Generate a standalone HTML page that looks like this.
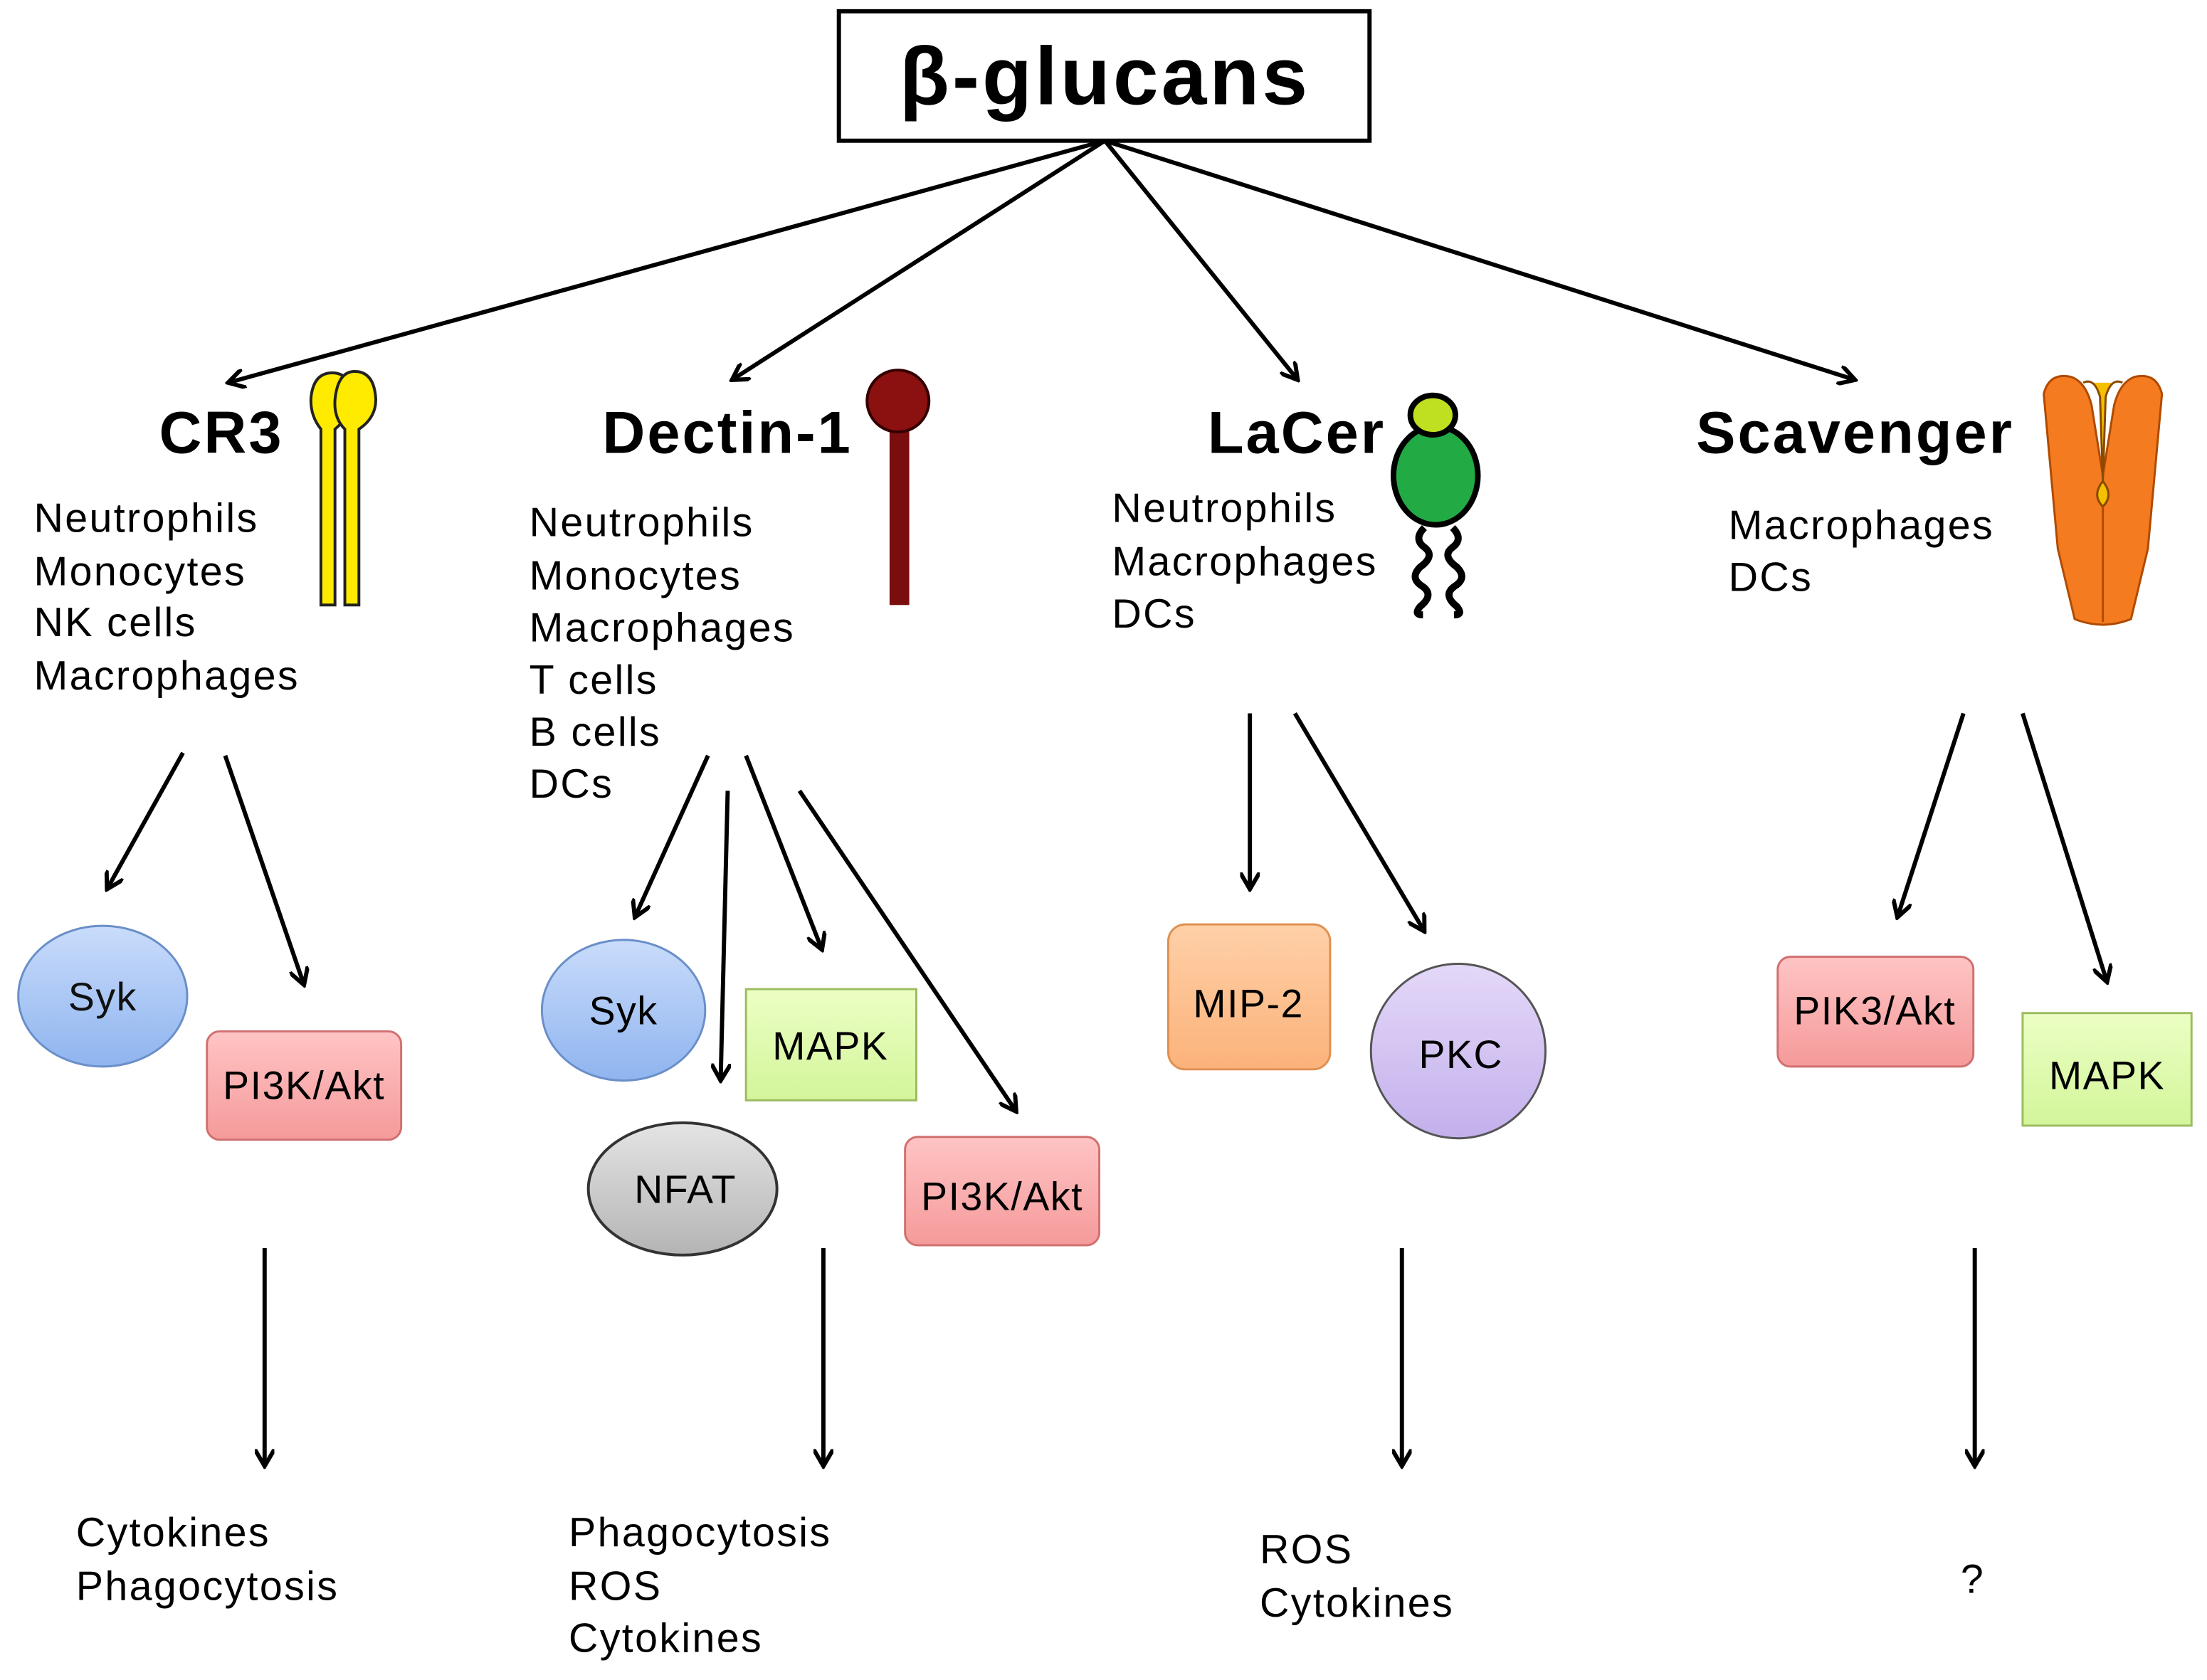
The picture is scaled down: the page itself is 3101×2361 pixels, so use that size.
<!DOCTYPE html>
<html><head><meta charset="utf-8"><style>html,body{margin:0;padding:0;background:#fff}svg{display:block}</style></head>
<body>
<svg width="3101" height="2361" viewBox="0 0 1568 1194" preserveAspectRatio="none" xmlns="http://www.w3.org/2000/svg" font-family="Liberation Sans, Arial, sans-serif">
<defs>
<marker id="a" markerWidth="14" markerHeight="14" refX="12" refY="7" orient="auto" markerUnits="userSpaceOnUse" viewBox="0 0 14 14">
<polyline points="0,0 12,7 0,14" fill="none" stroke="#000" stroke-width="3"/>
</marker>
<linearGradient id="bl" x1="0" y1="0" x2="0" y2="1"><stop offset="0" stop-color="#c9dcfb"/><stop offset="1" stop-color="#8fb4ef"/></linearGradient>
<linearGradient id="pk" x1="0" y1="0" x2="0" y2="1"><stop offset="0" stop-color="#ffc4c4"/><stop offset="1" stop-color="#f59a9a"/></linearGradient>
<linearGradient id="gr" x1="0" y1="0" x2="0" y2="1"><stop offset="0" stop-color="#ecffc4"/><stop offset="1" stop-color="#d3f59a"/></linearGradient>
<linearGradient id="gy" x1="0" y1="0" x2="0" y2="1"><stop offset="0" stop-color="#e4e4e4"/><stop offset="1" stop-color="#b4b4b4"/></linearGradient>
<linearGradient id="or" x1="0" y1="0" x2="0" y2="1"><stop offset="0" stop-color="#ffd0a8"/><stop offset="1" stop-color="#fbb27a"/></linearGradient>
<linearGradient id="pu" x1="0" y1="0" x2="0" y2="1"><stop offset="0" stop-color="#e4d8f8"/><stop offset="1" stop-color="#c3b0ec"/></linearGradient>
</defs>
<rect x="596" y="8" width="377" height="92" fill="#fff" stroke="#000" stroke-width="3"/>
<text x="785" y="74" font-size="58" font-weight="bold" text-anchor="middle" letter-spacing="2">β-glucans</text>
<g stroke="#000" stroke-width="3" fill="none" marker-end="url(#a)">
<line x1="785" y1="100" x2="162" y2="272"/>
<line x1="785" y1="100" x2="520" y2="270"/>
<line x1="785" y1="100" x2="922" y2="270"/>
<line x1="785" y1="100" x2="1318" y2="270"/>
<line x1="130" y1="535" x2="76" y2="632"/>
<line x1="160" y1="537" x2="216" y2="700"/>
<line x1="188" y1="887" x2="188" y2="1042"/>
<line x1="503" y1="537" x2="451" y2="652"/>
<line x1="517" y1="562" x2="512" y2="768"/>
<line x1="530" y1="537" x2="584" y2="675"/>
<line x1="568" y1="562" x2="722" y2="790"/>
<line x1="585" y1="887" x2="585" y2="1042"/>
<line x1="888" y1="507" x2="888" y2="632"/>
<line x1="920" y1="507" x2="1012" y2="662"/>
<line x1="996" y1="887" x2="996" y2="1042"/>
<line x1="1395" y1="507" x2="1348" y2="652"/>
<line x1="1437" y1="507" x2="1497" y2="698"/>
<line x1="1403" y1="887" x2="1403" y2="1042"/>
</g>
<g font-size="42" font-weight="bold" letter-spacing="1.5">
<text x="113" y="322">CR3</text>
<text x="428" y="322">Dectin-1</text>
<text x="858" y="322">LaCer</text>
<text x="1205" y="322">Scavenger</text>
</g>
<g font-size="29" letter-spacing="1.2">
<text x="24" y="378">Neutrophils</text><text x="24" y="416">Monocytes</text><text x="24" y="452">NK cells</text><text x="24" y="490">Macrophages</text>
<text x="376" y="381">Neutrophils</text><text x="376" y="419">Monocytes</text><text x="376" y="456">Macrophages</text><text x="376" y="493">T cells</text><text x="376" y="530">B cells</text><text x="376" y="567">DCs</text>
<text x="790" y="371">Neutrophils</text><text x="790" y="409">Macrophages</text><text x="790" y="446">DCs</text>
<text x="1228" y="383">Macrophages</text><text x="1228" y="420">DCs</text>
<text x="54" y="1099">Cytokines</text><text x="54" y="1137">Phagocytosis</text>
<text x="404" y="1099">Phagocytosis</text><text x="404" y="1137">ROS</text><text x="404" y="1174">Cytokines</text>
<text x="895" y="1111">ROS</text><text x="895" y="1149">Cytokines</text>
<text x="1393" y="1132">?</text>
</g>
<!-- icons -->
<g stroke="#222" stroke-width="2" fill="#ffeb00">
<path d="M228 430 V305 Q220 295 221 282 Q223 265 236 265 Q249 265 250 282 Q250 295 238 305 V430 Z"/>
<path d="M245 430 V305 Q237 297 238 284 Q240 264 252 264 Q266 264 267 284 Q267 297 255 305 V430 Z"/>
</g>
<rect x="632" y="296" width="14" height="134" fill="#7a0e0e"/>
<circle cx="638" cy="285" r="22" fill="#8b1010" stroke="#300" stroke-width="2"/>
<g stroke="#000" stroke-width="5" fill="none">
<path d="M1012 375 q-8 8 0 14 q8 6 -3 14 q-8 8 2 14 q8 6 -2 14 q-5 6 2 6"/>
<path d="M1032 375 q8 8 0 14 q-8 6 3 14 q8 8 -2 14 q-8 6 2 14 q5 6 -2 6"/>
</g>
<ellipse cx="1020" cy="338" rx="30" ry="35" fill="#22aa44" stroke="#000" stroke-width="4"/>
<ellipse cx="1018" cy="295" rx="16" ry="14" fill="#bfe020" stroke="#000" stroke-width="4"/>
<path d="M1452 280 q4 -16 20 -12 q10 4 14 20 l8 50 l8 -50 q4 -16 14 -20 q16 -4 20 12 l-10 110 l-12 50 q-20 8 -40 0 l-12 -50 z" fill="#f47b20" stroke="#b04a00" stroke-width="1.5"/>
<path d="M1480 272 q8 -4 12 10 l2 60 q-8 10 0 18 l0 0 q8 -8 0 -18 l2 -60 q4 -14 12 -10" fill="#f5c000" stroke="#8a4a00" stroke-width="1.5"/>
<line x1="1494" y1="360" x2="1494" y2="442" stroke="#b04a00" stroke-width="1.5"/>
<!-- nodes -->
<g font-size="28" text-anchor="middle" letter-spacing="0.8">
<ellipse cx="73" cy="708" rx="60" ry="50" fill="url(#bl)" stroke="#6a8fc8" stroke-width="1.5"/>
<text x="73" y="718" fill="#111">Syk</text>
<rect x="147" y="733" width="138" height="77" rx="9" fill="url(#pk)" stroke="#d07070" stroke-width="1.5"/>
<text x="216" y="781">PI3K/Akt</text>
<ellipse cx="443" cy="718" rx="58" ry="50" fill="url(#bl)" stroke="#6a8fc8" stroke-width="1.5"/>
<text x="443" y="728">Syk</text>
<rect x="530" y="703" width="121" height="79" fill="url(#gr)" stroke="#9cbc60" stroke-width="1.5"/>
<text x="590" y="753">MAPK</text>
<ellipse cx="485" cy="845" rx="67" ry="47" fill="url(#gy)" stroke="#333" stroke-width="2"/>
<text x="487" y="855">NFAT</text>
<rect x="643" y="808" width="138" height="77" rx="9" fill="url(#pk)" stroke="#d07070" stroke-width="1.5"/>
<text x="712" y="860">PI3K/Akt</text>
<rect x="830" y="657" width="115" height="103" rx="12" fill="url(#or)" stroke="#e09050" stroke-width="1.5"/>
<text x="887" y="723">MIP-2</text>
<circle cx="1036" cy="747" r="62" fill="url(#pu)" stroke="#555" stroke-width="1.5"/>
<text x="1038" y="759">PKC</text>
<rect x="1263" y="680" width="139" height="78" rx="9" fill="url(#pk)" stroke="#d07070" stroke-width="1.5"/>
<text x="1332" y="728">PIK3/Akt</text>
<rect x="1437" y="720" width="120" height="80" fill="url(#gr)" stroke="#9cbc60" stroke-width="1.5"/>
<text x="1497" y="774">MAPK</text>
</g>
</svg>
</body></html>
